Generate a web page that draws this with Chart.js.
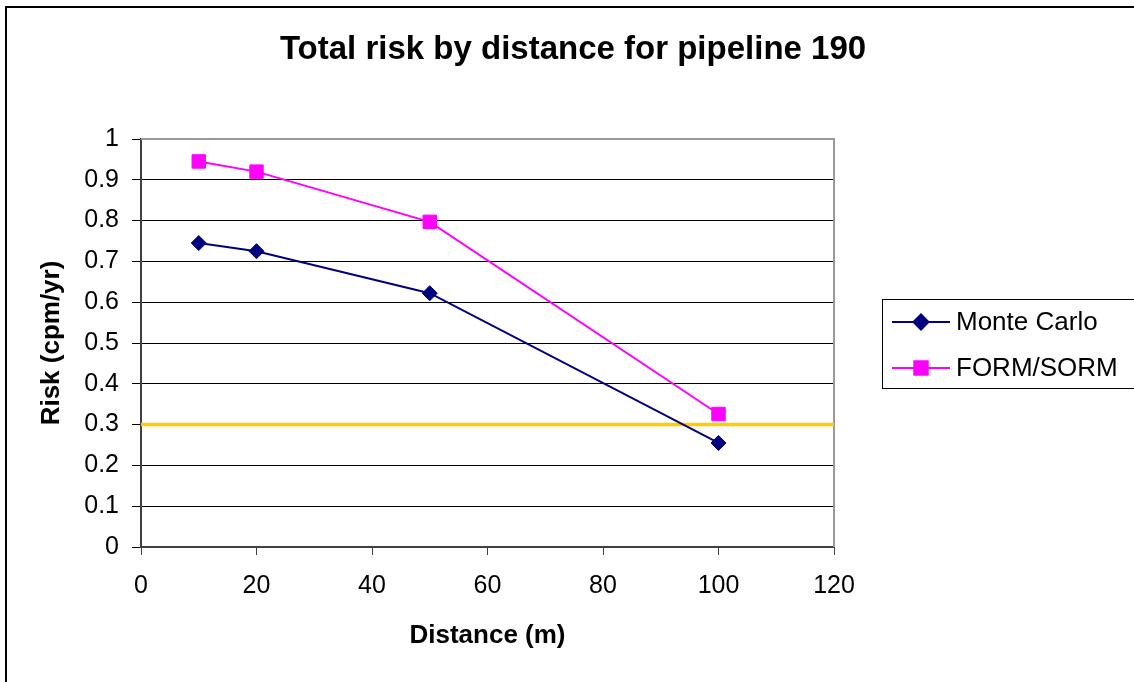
<!DOCTYPE html>
<html>
<head>
<meta charset="utf-8">
<script src="https://cdn.jsdelivr.net/npm/chart.js@4/dist/chart.umd.min.js"></script>
<style>
  html, body { margin: 0; padding: 0; background: #fff; }
  #wrap { width: 1134px; height: 682px; }
</style>
</head>
<body>
<div id="wrap"><canvas id="riskChart" width="1134" height="682"></canvas></div>
<script>
const distances = [10, 20, 50, 100];
const monteCarlo = [0.745, 0.725, 0.622, 0.255];
const formSorm = [0.945, 0.92, 0.797, 0.326];
const thresholdValue = 0.3;
const xRange = [0, 120];
const yTickLabels = ['0', '0.1', '0.2', '0.3', '0.4', '0.5', '0.6', '0.7', '0.8', '0.9', '1'];
const chartTitle = 'Total risk by distance for pipeline 190';

const FONT = "'Liberation Sans', Arial, sans-serif";

function toPoints(xs, ys) {
  return xs.map((x, i) => ({ x: x, y: ys[i] }));
}

// white page, outer frame, title and plot border
const framePlugin = {
  id: 'frame',
  beforeDraw(chart) {
    const ctx = chart.ctx;
    ctx.save();
    ctx.fillStyle = '#fff';
    ctx.fillRect(0, 0, chart.width, chart.height);
    ctx.strokeStyle = '#000';
    ctx.lineWidth = 2;
    ctx.strokeRect(6, 7, chart.width + 20, chart.height + 20);
    // title is centred on the whole frame, not on the plot
    ctx.fillStyle = '#000';
    ctx.font = 'bold 33px ' + FONT;
    ctx.textAlign = 'center';
    ctx.textBaseline = 'middle';
    ctx.fillText(chartTitle, 573, 50);
    ctx.restore();
  },
  beforeDatasetsDraw(chart) {
    const a = chart.chartArea;
    const ctx = chart.ctx;
    ctx.save();
    ctx.strokeStyle = '#999';
    ctx.lineWidth = 2;
    ctx.beginPath();
    ctx.moveTo(a.left, a.top);
    ctx.lineTo(a.right, a.top);
    ctx.lineTo(a.right, a.bottom);
    ctx.stroke();
    ctx.restore();
  }
};

// Excel style boxed legend with line + marker samples
const boxLegend = {
  id: 'boxLegend',
  afterDraw(chart) {
    const ctx = chart.ctx;
    const items = chart.data.datasets.filter(d => d.label);
    const bx = 882, by = 299, bw = 252, bh = 89;
    ctx.save();
    ctx.strokeStyle = '#000';
    ctx.lineWidth = 1;
    ctx.strokeRect(bx + 0.5, by + 0.5, bw, bh);
    items.forEach((d, i) => {
      const cy = 322 + i * 46;
      ctx.strokeStyle = d.borderColor;
      ctx.lineWidth = 2;
      ctx.beginPath();
      ctx.moveTo(892, cy);
      ctx.lineTo(950, cy);
      ctx.stroke();
      ctx.fillStyle = d.pointBackgroundColor;
      ctx.strokeStyle = d.pointBorderColor;
      Chart.helpers.drawPoint(ctx, {
        pointStyle: d.pointStyle,
        radius: d.pointRadius,
        borderWidth: d.pointBorderWidth,
        rotation: 0
      }, 921, cy);
      ctx.fillStyle = '#000';
      ctx.font = '26px ' + FONT;
      ctx.textBaseline = 'middle';
      ctx.textAlign = 'left';
      ctx.fillText(d.label, 956, cy + 1);
    });
    ctx.restore();
  }
};

new Chart(document.getElementById('riskChart'), {
  type: 'line',
  data: {
    datasets: [
      {
        label: 'Monte Carlo',
        data: toPoints(distances, monteCarlo),
        borderColor: '#000080',
        borderWidth: 2,
        pointStyle: 'rectRot',
        pointRadius: 7.5,
        pointBackgroundColor: '#000080',
        pointBorderColor: '#000080',
        pointBorderWidth: 1
      },
      {
        label: 'FORM/SORM',
        data: toPoints(distances, formSorm),
        borderColor: '#FF00FF',
        borderWidth: 2,
        pointStyle: 'rect',
        pointRadius: 9.5,
        pointBackgroundColor: '#FF00FF',
        pointBorderColor: '#FF00FF',
        pointBorderWidth: 1
      },
      {
        data: xRange.map(x => ({ x: x, y: thresholdValue })),
        borderColor: '#FFCC00',
        borderWidth: 3.5,
        pointRadius: 0
      }
    ]
  },
  options: {
    responsive: false,
    animation: false,
    events: [],
    layout: { padding: { left: 0, right: 300, top: 139, bottom: 0 } },
    plugins: {
      legend: { display: false },
      tooltip: { enabled: false },
      title: { display: false }
    },
    scales: {
      x: {
        type: 'linear',
        min: xRange[0],
        max: xRange[1],
        afterFit(scale) { scale.height = 135; },
        ticks: {
          stepSize: 20,
          color: '#000',
          padding: 16,
          font: { family: FONT, size: 25 },
          maxRotation: 0
        },
        grid: {
          drawOnChartArea: false,
          drawTicks: true,
          tickLength: 8,
          color: '#404040',
          lineWidth: 1
        },
        border: { color: '#404040', width: 2 },
        title: {
          display: true,
          text: 'Distance (m)',
          color: '#000',
          font: { family: FONT, size: 26, weight: 'bold' },
          padding: { top: 0, bottom: 31 }
        }
      },
      y: {
        min: 0,
        max: 1,
        afterFit(scale) { scale.width = 141; },
        ticks: {
          stepSize: 0.1,
          color: '#000',
          padding: 13,
          font: { family: FONT, size: 25 },
          callback: (v, i) => yTickLabels[i]
        },
        grid: {
          color: '#000',
          lineWidth: 1,
          drawTicks: true,
          tickLength: 9
        },
        border: { color: '#404040', width: 2 },
        title: {
          display: true,
          text: 'Risk (cpm/yr)',
          color: '#000',
          font: { family: FONT, size: 26, weight: 'bold' },
          padding: { top: 36, bottom: 0 }
        }
      }
    }
  },
  plugins: [framePlugin, boxLegend]
});
</script>
</body>
</html>
